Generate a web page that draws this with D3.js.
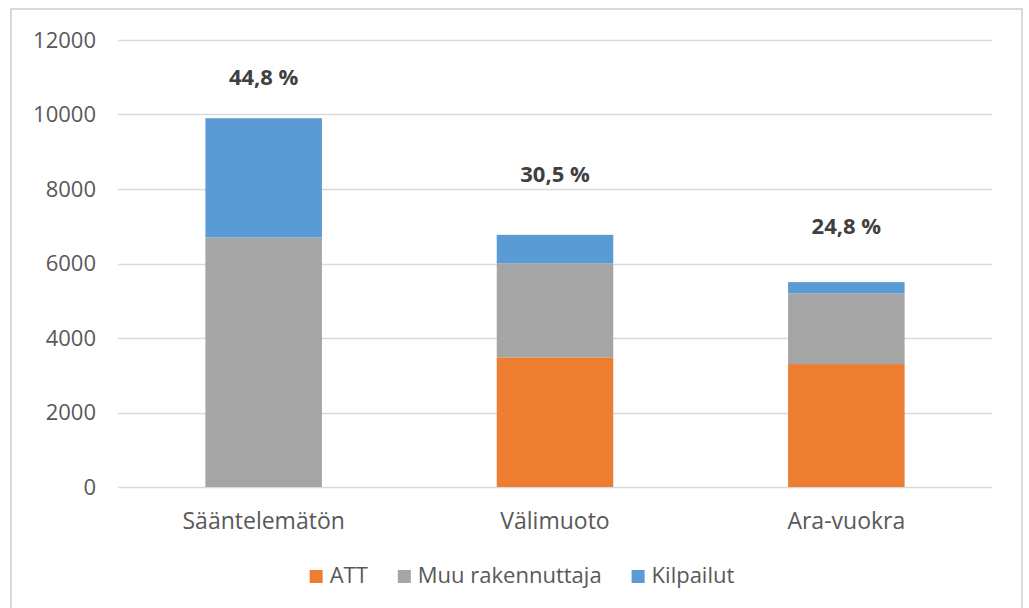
<!DOCTYPE html>
<html>
<head>
<meta charset="utf-8">
<script src="https://cdn.jsdelivr.net/npm/d3@7"></script>
<style>
    body { margin: 0; background: #fff; }
    text { font-family: "Open Sans", sans-serif; }
</style>
</head>
<body>
<div id="chart"></div>
<script>
const categories = ["Sääntelemätön", "Välimuoto", "Ara-vuokra"];
const seriesNames = ["ATT", "Muu rakennuttaja", "Kilpailut"];
const attValues = [0, 3480, 3300];
const muuValues = [6700, 2520, 1900];
const kilpailutValues = [3200, 770, 300];
const shareLabels = ["44,8 %", "30,5 %", "24,8 %"];
const shareLabelLevels = [11000, 8400, 7000]; // where the labels sit, in axis units
const yTicks = [0, 2000, 4000, 6000, 8000, 10000, 12000];

const colors = ["#ED7D31", "#A5A5A5", "#5B9BD5"];

const width = 1029, height = 608;

const svg = d3.select("#chart").append("svg")
    .attr("width", width)
    .attr("height", height);

// chart frame
svg.append("rect")
    .attr("x", 11).attr("y", 9)
    .attr("width", 1011).attr("height", 620)
    .attr("fill", "none")
    .attr("stroke", "#D9D9D9")
    .attr("stroke-width", 2);

const x = d3.scaleBand()
    .domain(categories)
    .range([118, 992])
    .paddingInner(0.6)
    .paddingOuter(0.3);

const y = d3.scaleLinear()
    .domain([0, 12000])
    .range([487, 40]);

// gridlines
svg.append("g")
    .selectAll("line")
    .data(yTicks)
    .enter()
    .append("line")
    .attr("x1", 118)
    .attr("x2", 992)
    .attr("y1", d => Math.round(y(d)) + 0.5)
    .attr("y2", d => Math.round(y(d)) + 0.5)
    .attr("stroke", "#D9D9D9")
    .attr("stroke-width", 1.5);

// y axis labels
const yAxis = svg.append("g")
    .attr("transform", "translate(96,0)")
    .call(d3.axisLeft(y).tickValues(yTicks).tickSize(0).tickPadding(0).tickFormat(d3.format("d")));
yAxis.select(".domain").remove();
yAxis.selectAll("text")
    .attr("fill", "#595959")
    .style("font-size", "22px")
    .style("font-family", "'Open Sans', sans-serif");

// stacked bars
const rows = categories.map((c, i) => ({
    category: c,
    "ATT": attValues[i],
    "Muu rakennuttaja": muuValues[i],
    "Kilpailut": kilpailutValues[i]
}));
const stacked = d3.stack().keys(seriesNames)(rows);

svg.append("g")
    .selectAll("g")
    .data(stacked)
    .enter()
    .append("g")
    .attr("fill", (d, i) => colors[i])
    .selectAll("rect")
    .data(d => d)
    .enter()
    .append("rect")
    .attr("x", d => x(d.data.category))
    .attr("width", x.bandwidth())
    .attr("y", d => y(d[1]))
    .attr("height", d => y(d[0]) - y(d[1]));

// share labels
svg.append("g")
    .selectAll("text")
    .data(shareLabels)
    .enter()
    .append("text")
    .attr("x", (d, i) => x(categories[i]) + x.bandwidth() / 2)
    .attr("y", (d, i) => y(shareLabelLevels[i]))
    .attr("dy", "0.36em")
    .attr("text-anchor", "middle")
    .attr("fill", "#404040")
    .style("font-size", "22px")
    .style("font-weight", "bold")
    .text(d => d);

// category labels
const xAxis = svg.append("g")
    .attr("transform", "translate(0,487)")
    .call(d3.axisBottom(x).tickSize(0).tickPadding(0));
xAxis.select(".domain").remove();
xAxis.selectAll("text")
    .attr("y", 42)
    .attr("dy", 0)
    .attr("fill", "#595959")
    .style("font-size", "23px")
    .style("font-family", "'Open Sans', sans-serif");

// legend
const legend = svg.append("g");
const items = legend.selectAll("g")
    .data(seriesNames)
    .enter()
    .append("g");
items.append("rect")
    .attr("width", 13)
    .attr("height", 13)
    .attr("y", 570)
    .attr("fill", (d, i) => colors[i]);
items.append("text")
    .attr("x", 20)
    .attr("y", 583)
    .attr("fill", "#595959")
    .style("font-size", "22px")
    .text(d => d);

let offset = 0;
const positions = [];
items.each(function () {
    positions.push(offset);
    offset += 20 + this.querySelector("text").getComputedTextLength() + 30;
});
const total = offset - 30;
const startX = 522 - total / 2;
items.attr("transform", (d, i) => `translate(${startX + positions[i]},0)`);
</script>
</body>
</html>
